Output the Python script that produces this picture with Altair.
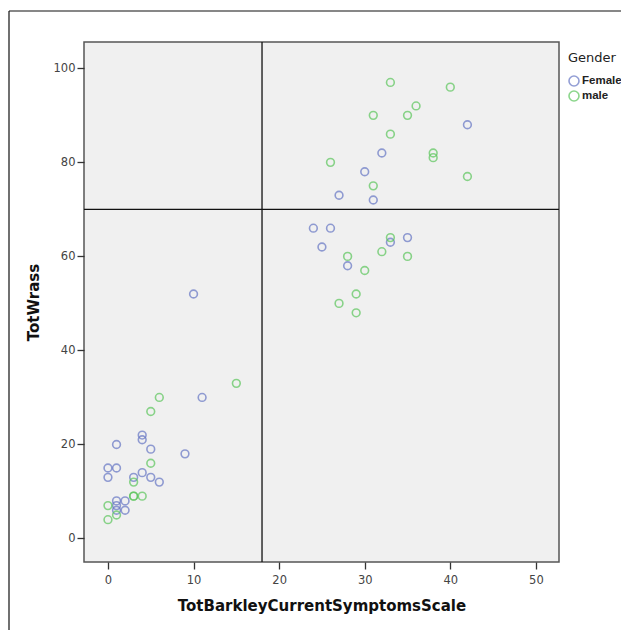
import altair as alt
import pandas as pd

female_x = [0, 0, 1, 1, 1, 1, 1, 2, 2, 3, 4, 4, 4, 5, 5, 6, 9, 10, 11,
            24, 26, 25, 28, 27, 30, 31, 32, 33, 35, 42]
female_y = [15, 13, 20, 15, 8, 7, 6, 8, 6, 13, 22, 21, 14, 19, 13, 12, 18, 52, 30,
            66, 66, 62, 58, 73, 78, 72, 82, 63, 64, 88]
male_x = [0, 0, 1, 3, 3, 4, 3, 5, 5, 6, 15,
          26, 28, 29, 27, 29, 30, 31, 31, 32, 33, 33, 33, 35, 36, 38, 38, 40, 42, 35]
male_y = [7, 4, 5, 9, 9, 9, 12, 16, 27, 30, 33,
          80, 60, 52, 50, 48, 57, 75, 90, 61, 64, 86, 97, 90, 92, 82, 81, 96, 77, 60]

x_ref = [18]
y_ref = [70]

df = pd.DataFrame({
    "TotBarkleyCurrentSymptomsScale": female_x + male_x,
    "TotWrass": female_y + male_y,
    "Gender": ["Female"] * len(female_x) + ["male"] * len(male_x),
})

FONT = "DejaVu Sans"

points = alt.Chart(df).mark_point(shape="circle", filled=False, size=60, strokeWidth=1.6).encode(
    x=alt.X("TotBarkleyCurrentSymptomsScale:Q",
            scale=alt.Scale(domain=[-2.8, 52.7], nice=False, zero=False),
            axis=alt.Axis(values=[0, 10, 20, 30, 40, 50], grid=False,
                          title="TotBarkleyCurrentSymptomsScale", titlePadding=13)),
    y=alt.Y("TotWrass:Q",
            scale=alt.Scale(domain=[-5, 105.6], nice=False, zero=False),
            axis=alt.Axis(values=[0, 20, 40, 60, 80, 100], grid=False,
                          title="TotWrass", titlePadding=12)),
    color=alt.Color("Gender:N",
                    scale=alt.Scale(domain=["Female", "male"], range=["#6676c4", "#5cc65c"]),
                    legend=alt.Legend(orient="none", legendX=484, legendY=10,
                                      title="Gender", symbolType="circle",
                                      symbolSize=100, symbolStrokeWidth=1.6,
                                      symbolFillColor="transparent",
                                      rowPadding=-3, labelOffset=2,
                                      titleFont=FONT, labelFont="Liberation Sans",
                                      titleFontSize=13, titleFontWeight="normal",
                                      labelFontSize=11.5, labelFontWeight="bold",
                                      titleColor="#222", labelColor="#222",
                                      titlePadding=10)),
)

vline = alt.Chart(pd.DataFrame({"x": x_ref})).mark_rule(color="#111", strokeWidth=1.3).encode(x="x:Q")
hline = alt.Chart(pd.DataFrame({"y": y_ref})).mark_rule(color="#111", strokeWidth=1.3).encode(y="y:Q")

frame_left = alt.Chart(pd.DataFrame({"a": [0]})).mark_rule(color="#111", strokeWidth=1.2).encode(
    x=alt.value(-75), y=alt.value(-31), y2=alt.value(640))
frame_top = alt.Chart(pd.DataFrame({"a": [0]})).mark_rule(color="#111", strokeWidth=1.2).encode(
    y=alt.value(-31), x=alt.value(-75), x2=alt.value(580))

chart = alt.layer(frame_left, frame_top, vline, hline, points).properties(
    width=475, height=520,
    autosize=alt.AutoSizeParams(type="none"),
    padding={"left": 76, "top": 34, "right": 62, "bottom": 68},
).configure_view(
    fill="#f0f0f0", stroke="#555", strokeWidth=1.5
).configure_axis(
    labelFont=FONT, titleFont=FONT, labelFontSize=11.5, labelColor="#444",
    titleFontSize=15, titleFontWeight="bold", titleColor="#111",
    tickColor="#333", tickSize=7, tickWidth=1.3, domain=False
).configure_axisX(
    labelPadding=5
).configure_axisY(
    labelPadding=2
)

chart.save("out.html", embed_options={"renderer": "svg", "actions": False})
